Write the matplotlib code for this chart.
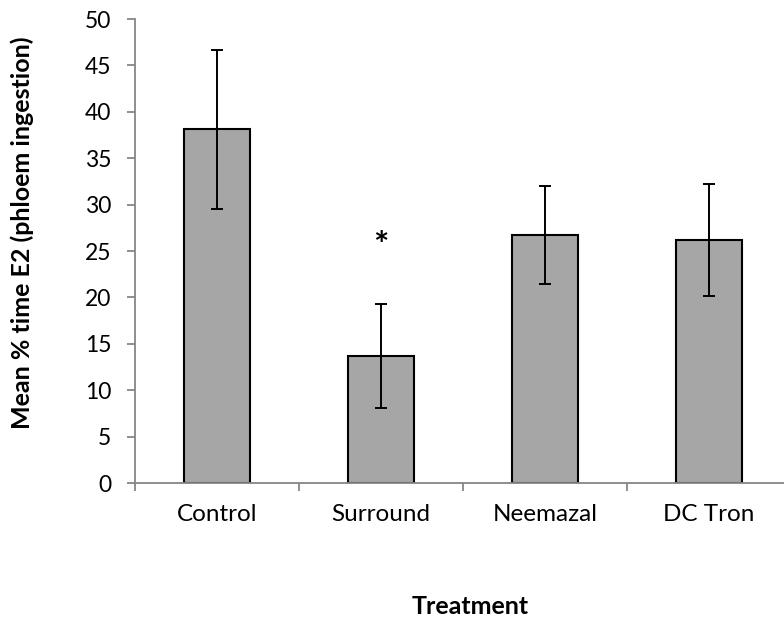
import matplotlib
matplotlib.use("Agg")
import matplotlib.pyplot as plt

categories = ["Control", "Surround", "Neemazal", "DC Tron"]
means = [38.1, 13.7, 26.7, 26.2]
errors = [8.6, 5.6, 5.3, 6.0]
y_ticks = [0, 5, 10, 15, 20, 25, 30, 35, 40, 45, 50]
star_label = "*"
star_index = 1
star_y = 25.5

plt.rcParams['font.family'] = ['Lato', 'DejaVu Sans']

fig = plt.figure(figsize=(7.84, 6.18), dpi=100)
ax = fig.add_axes([135/784, 135/618, 656/784, 464/618])

x = list(range(len(categories)))
ax.bar(x, means, width=0.4, color="#A6A6A6", edgecolor="black", linewidth=1.5, zorder=2)
ax.errorbar(x, means, yerr=errors, fmt="none", ecolor="black", elinewidth=1.4,
            capsize=4.3, capthick=1.4, zorder=3)
ax.text(star_index, star_y, star_label, ha="center", va="center", fontsize=26,
        fontweight="bold")

ax.set_xlim(-0.5, len(categories) - 0.5)
ax.set_ylim(0, 50)
ax.set_yticks(y_ticks)
ax.set_xticks(x)
ax.set_xticklabels(categories)
ax.set_xticks([i - 0.5 for i in range(len(categories) + 1)], minor=True)
ax.tick_params(axis="x", which="major", length=0, pad=15, labelsize=17.5)
ax.tick_params(axis="x", which="minor", length=5.5, width=1.3, color="#868686", direction="out")
ax.tick_params(axis="y", length=6, width=1.3, color="#868686", labelsize=16.5, pad=11)

for s in ["top", "right"]:
    ax.spines[s].set_visible(False)
for s in ["left", "bottom"]:
    ax.spines[s].set_color("#868686")
    ax.spines[s].set_linewidth(1.3)

fig.text(22/784, 1 - 233/618, "Mean % time E2 (phloem ingestion)", rotation=90,
         ha="center", va="center", fontsize=18, fontweight="bold")
fig.text(470/784, 1 - 606/618, "Treatment", ha="center", va="center", fontsize=18,
         fontweight="bold")

fig.savefig("out.png", dpi=100)
